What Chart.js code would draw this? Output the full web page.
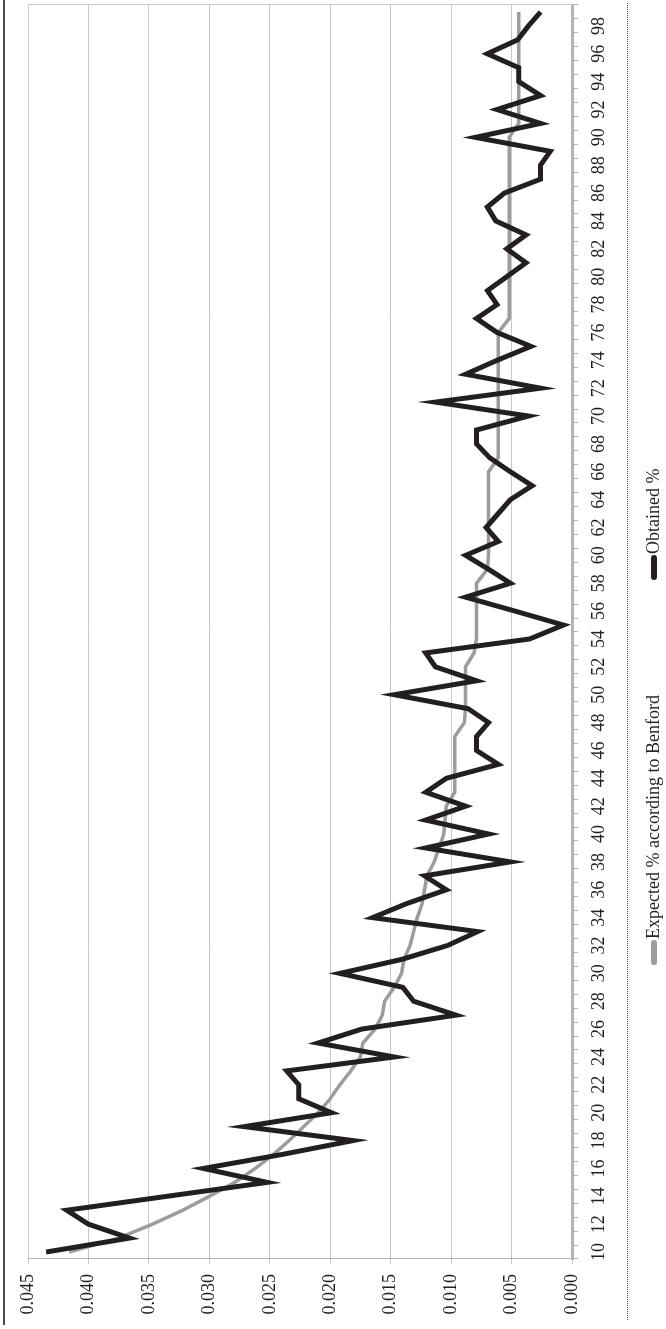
<!DOCTYPE html>
<html>
<head>
<style>
  html, body { margin: 0; padding: 0; background: #fff; overflow: hidden; }
  #page { position: relative; width: 666px; height: 1329px; overflow: hidden; }
  /* chart is drawn landscape and turned a quarter left */
  #wrap { position: absolute; left: 0; top: 1329px; width: 1329px; height: 666px;
          transform-origin: 0 0; transform: rotate(-90deg); }
</style>
</head>
<body>
<script src="https://cdn.jsdelivr.net/npm/chart.js"></script>
<div id="page"><div id="wrap"><canvas id="benfordChart" width="1329" height="666"></canvas></div></div>

<script>
const labels = [
  '10','11','12','13','14','15','16','17','18','19',
  '20','21','22','23','24','25','26','27','28','29',
  '30','31','32','33','34','35','36','37','38','39',
  '40','41','42','43','44','45','46','47','48','49',
  '50','51','52','53','54','55','56','57','58','59',
  '60','61','62','63','64','65','66','67','68','69',
  '70','71','72','73','74','75','76','77','78','79',
  '80','81','82','83','84','85','86','87','88','89',
  '90','91','92','93','94','95','96','97','98','99'
];

// expected % according to Benford
const expected = [
  0.0416, 0.0375, 0.0347, 0.0322, 0.0300, 0.0279, 0.0262, 0.0247, 0.0234, 0.0222,
  0.0210, 0.0200, 0.0192, 0.0183, 0.0175, 0.0173, 0.0163, 0.0157, 0.0155, 0.0147,
  0.0141, 0.0139, 0.0134, 0.0131, 0.0128, 0.0124, 0.0122, 0.0120, 0.0114, 0.0110,
  0.0106, 0.0105, 0.0104, 0.0097, 0.0097, 0.0097, 0.0097, 0.0097, 0.0089, 0.0088,
  0.0088, 0.0088, 0.0088, 0.0081, 0.0079, 0.0079, 0.0079, 0.0079, 0.0079, 0.0070,
  0.0069, 0.0069, 0.0069, 0.0069, 0.0069, 0.0069, 0.0069, 0.0061, 0.0061, 0.0061,
  0.0061, 0.0061, 0.0061, 0.0061, 0.0061, 0.0061, 0.0061, 0.0052, 0.0052, 0.0052,
  0.0052, 0.0052, 0.0052, 0.0052, 0.0052, 0.0052, 0.0052, 0.0052, 0.0052, 0.0052,
  0.0052, 0.0044, 0.0044, 0.0044, 0.0044, 0.0044, 0.0044, 0.0044, 0.0044, 0.0044
];

// obtained % (black line)
const obtained = [
  0.0435, 0.0366, 0.0400, 0.0418, 0.0335, 0.0252, 0.0305, 0.0240, 0.0181, 0.0271,
  0.0199, 0.0226, 0.0226, 0.0236, 0.0147, 0.0210, 0.0174, 0.0096, 0.0131, 0.0140,
  0.0192, 0.0141, 0.0103, 0.0078, 0.0165, 0.0137, 0.0104, 0.0122, 0.0051, 0.0121,
  0.0069, 0.0121, 0.0088, 0.0121, 0.0104, 0.0061, 0.0079, 0.0079, 0.0069, 0.0086,
  0.0147, 0.0079, 0.0113, 0.0121, 0.0035, 0.0007, 0.0047, 0.0088, 0.0051, 0.0069,
  0.0088, 0.0061, 0.0071, 0.0061, 0.0051, 0.0033, 0.0051, 0.0068, 0.0079, 0.0079,
  0.0036, 0.0113, 0.0026, 0.0088, 0.0062, 0.0034, 0.0062, 0.0079, 0.0062, 0.0070,
  0.0054, 0.0038, 0.0054, 0.0038, 0.0063, 0.0070, 0.0056, 0.0026, 0.0026, 0.0018,
  0.0080, 0.0026, 0.0062, 0.0026, 0.0044, 0.0044, 0.0070, 0.0045, 0.0036, 0.0026
];

const yTicks = ['0.000','0.005','0.010','0.015','0.020','0.025','0.030','0.035','0.040','0.045'];

const fontFamily = '"Liberation Serif", "Times New Roman", serif';
const textColor = '#231f20';

// frame lines and legend, drawn in the rotated chart's own coordinates
const decorations = {
  id: 'decorations',
  afterDraw(chart) {
    const ctx = chart.ctx;
    const area = chart.chartArea;
    ctx.save();
    // solid rule at the top
    ctx.strokeStyle = '#4a4a4a';
    ctx.lineWidth = 2;
    ctx.beginPath();
    ctx.moveTo(4, 4);
    ctx.lineTo(1329, 4);
    ctx.stroke();
    // plot edge on the right
    ctx.strokeStyle = '#c8c8c8';
    ctx.lineWidth = 1;
    ctx.beginPath();
    ctx.moveTo(area.right + 0.5, area.top);
    ctx.lineTo(area.right + 0.5, area.bottom);
    ctx.stroke();
    // dotted rule under the category labels
    ctx.strokeStyle = '#555';
    ctx.setLineDash([1, 1]);
    ctx.beginPath();
    ctx.moveTo(9, 627.5);
    ctx.lineTo(1326, 627.5);
    ctx.stroke();
    ctx.setLineDash([]);

    // legend
    ctx.font = '18px ' + fontFamily;
    ctx.textBaseline = 'middle';
    ctx.fillStyle = textColor;
    let x = 364;
    const y = 654;
    chart.data.datasets.forEach((ds, i) => {
      ctx.strokeStyle = ds.borderColor;
      ctx.lineWidth = 6;
      ctx.lineCap = 'round';
      ctx.beginPath();
      ctx.moveTo(x + 3, y);
      ctx.lineTo(x + 22, y);
      ctx.stroke();
      ctx.fillText(ds.label, x + 26, y);
      x = 749;
    });
    ctx.restore();
  }
};

const data = {
  labels: labels,
  datasets: [{
    label: 'Expected % according to Benford',
    data: expected,
    borderColor: '#9c9c9f',
    backgroundColor: '#9c9c9f',
    borderWidth: 3.5,
    order: 2
  }, {
    label: 'Obtained %',
    data: obtained,
    borderColor: '#231f20',
    backgroundColor: '#231f20',
    borderWidth: 5,
    order: 1
  }]
};

const config = {
  type: 'line',
  data: data,
  options: {
    responsive: false,
    animation: false,
    layout: { padding: { top: 28, right: 5, left: 0, bottom: 0 } },
    elements: {
      point: { radius: 0 },
      line: { tension: 0, borderJoinStyle: 'miter', borderCapStyle: 'butt' }
    },
    plugins: {
      legend: { display: false },
      tooltip: { enabled: false }
    },
    scales: {
      x: {
        offset: true,
        grid: { offset: true, drawOnChartArea: false, tickLength: 6, color: '#b3b3b3', lineWidth: 1 },
        border: { color: '#b3b3b3', width: 3 },
        ticks: {
          autoSkip: false, maxRotation: 0, padding: 10,
          font: { family: fontFamily, size: 18 }, color: textColor,
          callback: function(v, i) { return i % 2 === 0 ? labels[i] : ''; }
        },
        afterFit: function(s) { s.height = 94; }
      },
      y: {
        min: 0, max: 0.045,
        ticks: {
          stepSize: 0.005, padding: 10,
          font: { family: fontFamily, size: 18 }, color: textColor,
          callback: function(v, i) { return yTicks[i]; }
        },
        grid: { color: '#c8c8c8', tickLength: 5 },
        border: { color: '#b3b3b3' },
        afterFit: function(s) { s.width = 70; }
      }
    }
  },
  plugins: [decorations]
};

const myChart = new Chart(document.getElementById('benfordChart'), config);
</script>
</body>
</html>
